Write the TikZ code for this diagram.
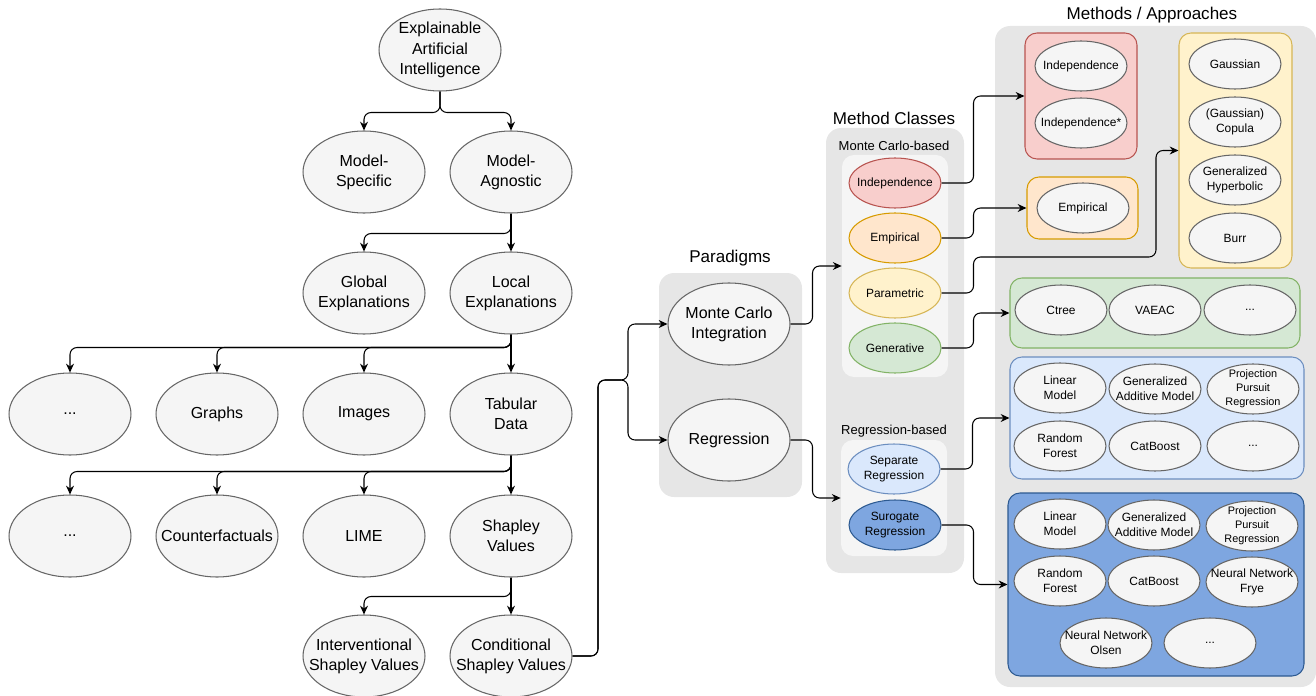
\documentclass[tikz,border=0pt]{standalone}
\usepackage{fontspec}
\setmainfont{Liberation Sans}
\usepackage{tikz}
\usetikzlibrary{shapes.geometric, arrows.meta, positioning, fit}
\definecolor{nodefill}{HTML}{F5F5F5}
\definecolor{nodeline}{HTML}{666666}
\definecolor{panelgray}{HTML}{E6E6E6}
\definecolor{innergray}{HTML}{F5F5F5}
\definecolor{indred}{HTML}{F8CECC}
\definecolor{indredline}{HTML}{B85450}
\definecolor{emporange}{HTML}{FFE6CC}
\definecolor{emporangeline}{HTML}{D79B00}
\definecolor{paryellow}{HTML}{FFF2CC}
\definecolor{paryellowline}{HTML}{D6B656}
\definecolor{gengreen}{HTML}{D5E8D4}
\definecolor{gengreenline}{HTML}{82B366}
\definecolor{sepblue}{HTML}{DAE8FC}
\definecolor{sepblueline}{HTML}{6C8EBF}
\definecolor{surblue}{HTML}{7EA6E0}
\definecolor{surblueline}{HTML}{2D5A91}

\tikzset{
  bignode/.style={ellipse, draw=nodeline, fill=nodefill, line width=0.6pt,
    minimum width=2.44cm, minimum height=1.64cm, inner xsep=-0.3cm, inner ysep=0pt,
    align=center, font=\fontsize{9.1}{11.5}\selectfont},
  smallnode/.style={ellipse, draw=nodeline, fill=nodefill, line width=0.6pt,
    minimum width=1.84cm, minimum height=1.0cm, inner xsep=-0.2cm, inner ysep=-0.1cm,
    align=center, font=\fontsize{6.8}{8.6}\selectfont},
  tinynode/.style={smallnode, font=\fontsize{6.2}{7.9}\selectfont},
  panel/.style={fill=panelgray, rounded corners=0.3cm, inner sep=0pt},
  innerpanel/.style={fill=innergray, rounded corners=0.24cm, inner sep=0pt},
  group/.style 2 args={fill=#1, draw=#2, line width=0.6pt, rounded corners=0.24cm, inner sep=0pt},
  title/.style={font=\fontsize{9.7}{11.5}\selectfont},
  sublabel/.style={font=\fontsize{7.4}{9}\selectfont},
  arr/.style={-{Stealth[length=5pt,width=4.5pt]}, line width=0.6pt, rounded corners=4pt},
}

\begin{document}
\begin{tikzpicture}[x=0.02cm, y=-0.02cm]
  \useasboundingbox (0,0) rectangle (1316,696);

  % Taxonomy tree
  \node[bignode] (xai) at (440,50) {Explainable\\Artificial\\Intelligence};
  \node[bignode] (specific) at (364,172) {Model-\\Specific};
  \node[bignode] (agnostic) at (511,172) {Model-\\Agnostic};
  \node[bignode] (global) at (364,293) {Global\\Explanations};
  \node[bignode] (local) at (511,293) {Local\\Explanations};
  \node[bignode] (dataother) at (70,414) {...};
  \node[bignode] (graphs) at (217,414) {Graphs};
  \node[bignode] (images) at (364,414) {Images};
  \node[bignode] (tabular) at (511,414) {Tabular\\Data};
  \node[bignode] (methother) at (70,536) {...};
  \node[bignode] (counterf) at (217,536) {Counterfactuals};
  \node[bignode] (lime) at (364,536) {LIME};
  \node[bignode] (shapley) at (511,536) {Shapley\\Values};
  \node[bignode] (interv) at (364,656) {Interventional\\Shapley Values};
  \node[bignode] (cond) at (511,656) {Conditional\\Shapley Values};

  % Tree connectors
  \foreach \child in {specific, agnostic}
    \draw[arr] (xai.south) -- ++(0,21) -| (\child.north);
  \draw[arr] (agnostic.south) -- ++(0,20) -| (global.north);
  \draw[arr] (agnostic) -- (local);
  \foreach \child in {dataother, graphs, images}
    \draw[arr] (local.south) -- ++(0,13) -| (\child.north);
  \draw[arr] (local) -- (tabular);
  \foreach \child in {methother, counterf, lime}
    \draw[arr] (tabular.south) -- ++(0,16) -| (\child.north);
  \draw[arr] (tabular) -- (shapley);
  \draw[arr] (shapley.south) -- ++(0,19) -| (interv.north);
  \draw[arr] (shapley) -- (cond);

  % Paradigms
  \node[panel, fit={(659,273) (802,497)}] (parpanel) {};
  \node[title] at (730,258) {Paradigms};
  \node[bignode] (mci) at (729,324) {Monte Carlo\\Integration};
  \node[bignode] (regr) at (729,440) {Regression};
  \coordinate (riser) at (598,380);
  \coordinate (fork) at (628,380);
  \foreach \target in {mci, regr}
    \draw[arr] (cond.east) -| (riser) -- (fork) |- (\target.west);

  % Method classes
  \node[panel, fit={(826,128) (964,573)}] (classpanel) {};
  \node[title] at (894,118) {Method Classes};
  \node[sublabel] at (894,146) {Monte Carlo-based};
  \node[innerpanel, fit={(842,155) (948,377)}] (mcbox) {};
  \node[sublabel] at (894,431) {Regression-based};
  \node[innerpanel, fit={(841,440) (947,556)}] (regbox) {};
  \node[smallnode, fill=indred, draw=indredline] (indep) at (895,183) {Independence};
  \node[smallnode, fill=emporange, draw=emporangeline] (empir) at (895,238) {Empirical};
  \node[smallnode, fill=paryellow, draw=paryellowline] (param) at (895,293) {Parametric};
  \node[smallnode, fill=gengreen, draw=gengreenline] (gener) at (895,348) {Generative};
  \node[smallnode, fill=sepblue, draw=sepblueline] (separ) at (894,469) {Separate\\Regression};
  \node[smallnode, fill=surblue, draw=surblueline] (surog) at (895,525) {Surogate\\Regression};
  \draw[arr] (mci.east) -- ++(22,0) |- (mcbox.west);
  \draw[arr] (regr.east) -- ++(22,0) |- (regbox.west);

  % Methods / approaches
  \node[panel, fit={(995,26) (1316,687)}] (methpanel) {};
  \node[title] at (1152,15) {Methods / Approaches};

  \node[group={indred}{indredline}, fit={(1025,33) (1137,159)}] (indbox) {};
  \node[smallnode] (indA) at (1081,66) {Independence};
  \node[smallnode] (indB) at (1081,123) {Independence*};

  \node[group={emporange}{emporangeline}, fit={(1027,177) (1138,239)}] (empbox) {};
  \node[smallnode] (empA) at (1083,208) {Empirical};

  \node[group={paryellow}{paryellowline}, fit={(1179,33) (1292,268)}] (parbox) {};
  \node[smallnode] (gauss) at (1235,64) {Gaussian};
  \node[smallnode] (copula) at (1235,122) {(Gaussian)\\Copula};
  \node[smallnode] (genhyp) at (1235,180) {Generalized\\Hyperbolic};
  \node[smallnode] (burr) at (1235,238) {Burr};

  \node[group={gengreen}{gengreenline}, fit={(1010,278) (1300,348)}] (genbox) {};
  \node[smallnode] (ctree) at (1061,310) {Ctree};
  \node[smallnode] (vaeac) at (1155,310) {VAEAC};
  \node[smallnode] (genother) at (1250,310) {...};

  \node[group={sepblue}{sepblueline}, fit={(1010,357) (1304,479)}] (sepbox) {};
  \node[smallnode] (sepLM) at (1060,388) {Linear\\Model};
  \node[smallnode] (sepGAM) at (1155,389) {Generalized\\Additive Model};
  \node[tinynode] (sepPPR) at (1253,389) {Projection\\Pursuit\\Regression};
  \node[smallnode] (sepRF) at (1060,446) {Random\\Forest};
  \node[smallnode] (sepCB) at (1155,446) {CatBoost};
  \node[smallnode] (sepother) at (1253,446) {...};

  \node[group={surblue}{surblueline}, fit={(1008,493) (1304,676)}] (surbox) {};
  \node[smallnode] (surLM) at (1060,524) {Linear\\Model};
  \node[smallnode] (surGAM) at (1154,525) {Generalized\\Additive Model};
  \node[tinynode] (surPPR) at (1252,526) {Projection\\Pursuit\\Regression};
  \node[smallnode] (surRF) at (1060,581) {Random\\Forest};
  \node[smallnode] (surCB) at (1154,581) {CatBoost};
  \node[smallnode] (surNNF) at (1252,582) {Neural Network\\Frye};
  \node[smallnode] (surNNO) at (1106,643) {Neural Network\\Olsen};
  \node[smallnode] (surother) at (1210,643) {...};

  % Class to method connectors
  \coordinate (parbend) at (1156,257);
  \draw[arr] (indep.east) -- ++(32,0) |- (indbox.west);
  \draw[arr] (empir.east) -- ++(32,0) |- (empbox.west);
  \draw[arr] (param.east) -- ++(32,0) |- (parbend) |- (parbox.west);
  \draw[arr] (gener.east) -- ++(32,0) |- (genbox.west);
  \draw[arr] (separ.east) -- ++(32,0) |- (sepbox.west);
  \draw[arr] (surog.east) -- ++(32,0) |- (surbox.west);

\end{tikzpicture}
\end{document}
